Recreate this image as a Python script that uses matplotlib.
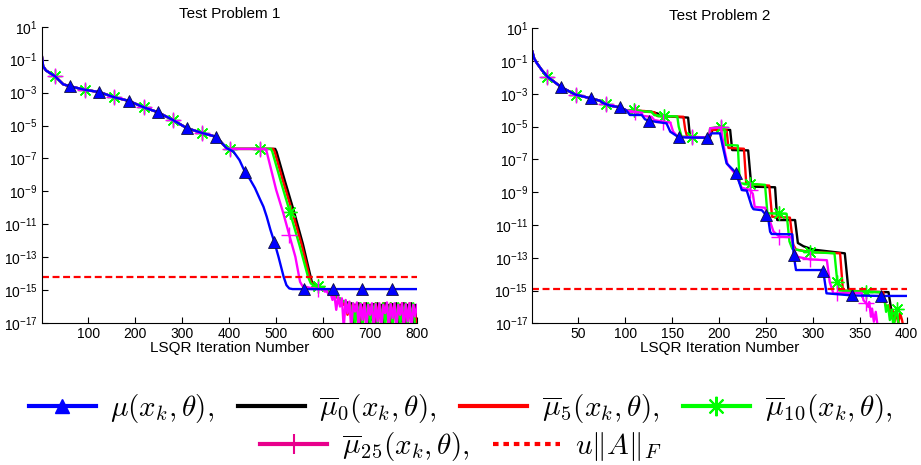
import numpy as np
import matplotlib
matplotlib.use('Agg')
import matplotlib.pyplot as plt
from matplotlib.lines import Line2D
from matplotlib.font_manager import FontProperties
from matplotlib.ticker import FixedLocator, NullLocator, FuncFormatter

plt.rcParams['font.family'] = 'Liberation Sans'
plt.rcParams['mathtext.fontset'] = 'custom'
plt.rcParams['mathtext.rm'] = 'Liberation Sans'
plt.rcParams['mathtext.it'] = 'Liberation Sans:italic'
plt.rcParams['mathtext.default'] = 'it'
plt.rcParams['lines.scale_dashes'] = False

# ---- Test Problem 1 (values are log10 of the plotted quantity) ----
tp1_head_x = [1, 4, 10, 19, 29, 47, 62, 93, 124, 155, 186, 218, 248, 280, 310, 342, 373, 385, 395]
tp1_head_e = [-0.7, -1.4, -1.65, -1.82, -2.0, -2.5, -2.62, -2.83, -2.97, -3.28, -3.5, -3.89, -4.19,
              -4.66, -5.16, -5.45, -5.69, -6.08, -6.38]

tp1_mu_x = [409, 422, 434, 445, 455, 466, 473, 480, 488, 496, 505, 516, 522, 528, 535, 559, 621, 683, 746, 800]
tp1_mu_e = [-6.58, -7.1, -7.84, -8.3, -8.8, -9.5, -9.93, -10.54, -11.35, -12.06, -12.97, -14.19, -14.7,
            -14.9, -14.94, -14.94, -14.94, -14.94, -14.94, -14.94]

tp1_mu0_x = [402, 466, 498, 501, 518, 537, 557, 576, 583, 590]
tp1_mu0_e = [-6.42, -6.42, -6.42, -6.6, -8.3, -10.13, -12.2, -14.5, -14.75, -14.8]
tp1_mu5_x = [402, 466, 494, 497, 514, 534, 554, 574, 581, 590]
tp1_mu5_e = [-6.42, -6.42, -6.42, -6.6, -8.3, -10.2, -12.2, -14.5, -14.75, -14.8]
tp1_mu10_x = [402, 466, 489, 492, 510, 529, 550, 568, 574, 583, 590]
tp1_mu10_e = [-6.42, -6.42, -6.42, -6.6, -8.4, -10.23, -12.3, -14.2, -14.6, -14.75, -14.78]
tp1_mu25_x = [402, 466, 477, 480, 500, 515, 528, 541, 551, 556, 570, 590]
tp1_mu25_e = [-6.42, -6.42, -6.42, -6.6, -8.9, -10.3, -11.65, -12.98, -14.5, -14.75, -14.85, -14.95]

# rounding-level noise after convergence, iterations 600..800
tp1_noise_x = list(range(600, 801, 4))
tp1_mu0_noise = [-14.9, -15.0, -15.05, -15.15, -15.2, -15.3, -15.35, -15.4, -15.5, -15.55,
                 -15.65, -15.7, -15.9, -15.75, -16.4, -15.8, -17.1, -15.9, -16.5, -15.8,
                 -17.3, -15.9, -16.3, -15.8, -17.2, -15.9, -16.8, -15.85, -17.3, -15.8,
                 -16.5, -15.9, -17.2, -15.8, -16.7, -15.9, -17.3, -15.85, -16.4, -15.8,
                 -17.2, -15.9, -16.9, -15.8, -17.3, -15.9, -16.6, -15.8, -17.2, -15.9,
                 -17.4]
tp1_mu5_noise = [-14.85, -14.95, -15.05, -15.1, -15.2, -15.25, -15.3, -15.4, -15.45, -15.55,
                 -15.6, -15.9, -15.7, -16.5, -15.8, -16.1, -15.85, -16.9, -15.8, -17.3,
                 -15.9, -16.5, -15.8, -17.2, -15.9, -16.7, -15.85, -17.3, -15.8, -16.4,
                 -15.9, -17.2, -15.8, -16.8, -15.9, -17.3, -15.8, -16.5, -15.9, -17.2,
                 -15.85, -16.6, -15.8, -17.3, -15.9, -16.9, -15.8, -17.2, -15.9, -16.4,
                 -17.4]
tp1_mu10_noise = [-14.85, -14.95, -15.0, -15.1, -15.15, -15.2, -15.3, -15.35, -15.45, -15.5,
                  -15.6, -15.7, -15.65, -16.2, -15.75, -16.6, -15.8, -17.3, -15.9, -16.4,
                  -15.8, -17.2, -15.9, -16.6, -15.8, -17.3, -15.85, -16.3, -15.8, -17.2,
                  -15.9, -16.8, -15.8, -17.3, -15.9, -16.5, -15.8, -17.2, -15.85, -16.9,
                  -15.8, -17.3, -15.9, -16.4, -15.8, -17.3, -15.85, -16.7, -15.8, -17.3,
                  -17.4]
tp1_mu25_noise = [-14.95, -15.1, -15.05, -15.3, -15.2, -15.6, -15.3, -16.2, -15.4, -16.0,
                  -15.5, -17.3, -15.6, -16.4, -15.7, -17.4, -15.8, -16.3, -15.75, -17.3,
                  -15.85, -16.8, -15.8, -17.4, -15.9, -16.5, -15.8, -17.3, -15.85, -16.9,
                  -15.8, -17.4, -15.9, -16.4, -15.75, -17.3, -15.85, -16.7, -15.8, -17.4,
                  -15.9, -16.5, -15.8, -17.3, -15.85, -16.9, -15.8, -17.4, -15.9, -16.6,
                  -15.9]
tp1_tol_e = -14.23

tp1_mu_marks = [62, 124, 186, 248, 310, 373, 434, 496, 559, 621, 683, 746]
tp1_bar_marks = [29, 93, 155, 218, 280, 342, 402, 466, 528, 590]

# ---- Test Problem 2 ----
tp2_head_x = [1, 3, 6, 11, 17, 32, 47, 63, 73, 76, 79, 84, 94, 101]
tp2_head_e = [-0.42, -0.85, -1.14, -1.54, -1.95, -2.6, -3.05, -3.27, -3.42, -3.55, -3.62, -3.72, -3.82, -4.0]

tp2_mu_x = [105, 117.6, 121, 125, 144, 148, 157, 187, 189, 192, 201, 204, 208, 218, 222.4, 224.2, 229.5,
            234.9, 236.7, 245.6, 250, 252.6, 254.4, 256, 278, 279.5, 282, 309.5, 311, 314.5, 342, 373, 400]
tp2_mu_e = [-4.29, -4.29, -4.55, -4.64, -4.8, -5.31, -5.65, -5.68, -5.6, -5.41, -5.41, -6.22, -7.24, -7.81,
            -8.56, -8.87, -8.9, -9.88, -10.04, -10.1, -10.39, -10.69, -11.41, -11.55, -11.57, -12.83, -13.75,
            -13.75, -13.8, -15.17, -15.3, -15.33, -15.33]

tp2_mu0_x = [128, 131, 134.7, 137, 167, 169, 190, 193, 211.8, 214, 231, 234.4, 259.7, 262, 281, 284, 290,
             300, 334, 337.7, 339, 380.6, 383, 385, 387]
tp2_mu0_e = [-4.09, -4.15, -4.2, -4.35, -4.45, -5.62, -5.68, -5.2, -5.2, -6.43, -6.45, -8.66, -8.7, -10.7,
             -10.7, -12.1, -12.3, -12.5, -12.73, -14.86, -15.07, -15.1, -16.0, -16.6, -17.4]

tp2_mu5_x = [121, 124, 131, 134, 162, 164, 166, 189.5, 192, 208, 210, 226.5, 229, 253.5, 256.5, 275.5, 279,
             282, 297, 329, 332, 375, 377, 379, 381, 383, 385, 387, 389, 391, 393, 395, 397]
tp2_mu5_e = [-4.05, -4.1, -4.12, -4.35, -4.4, -5.2, -5.62, -5.66, -5.2, -5.2, -6.3, -6.35, -8.5, -8.6, -10.5,
             -10.55, -12.2, -12.5, -12.65, -12.73, -15.0, -15.1, -15.8, -16.1, -15.9, -16.7, -16.2, -16.9,
             -16.3, -17.0, -16.4, -16.8, -17.4]

tp2_mu10_x = [109, 113, 128, 131, 141, 155.5, 157, 160, 171, 189, 190.5, 202, 205.5, 207, 220, 222, 233, 249,
              251.5, 264, 272, 275, 278, 290, 297, 323, 326, 328, 357, 371.6, 374, 376, 378, 380, 382, 384,
              386, 388, 389.5, 391, 393]
tp2_mu10_e = [-3.98, -4.05, -4.1, -4.3, -4.35, -4.38, -5.0, -5.6, -5.65, -5.65, -5.1, -5.0, -5.05, -6.12,
              -6.15, -8.46, -8.5, -8.55, -10.29, -10.3, -10.32, -12.0, -12.45, -12.6, -12.65, -12.73, -14.46,
              -15.0, -15.07, -15.1, -15.6, -15.4, -16.3, -15.9, -16.8, -16.2, -17.3, -16.4, -16.15, -16.9,
              -17.4]

tp2_mu25_x = [110, 117, 119, 128, 131, 140.7, 148, 151, 156, 171, 189, 190.5, 202, 203, 206, 209, 216, 222,
              224, 233, 236, 238, 249, 251.5, 255, 258, 264.3, 277, 280.5, 284, 297, 314.9, 318, 322, 326,
              352, 354, 357, 359, 360, 361.9, 363, 365, 367, 369, 371.6]
tp2_mu25_e = [-4.1, -4.15, -4.35, -4.4, -4.6, -4.7, -4.75, -5.3, -5.62, -5.65, -5.65, -5.1, -5.05, -5.5,
              -6.5, -7.3, -7.8, -8.4, -8.72, -8.87, -9.1, -9.9, -9.95, -10.35, -10.9, -11.4, -11.71, -11.75,
              -12.6, -12.95, -13.1, -13.15, -14.5, -15.2, -15.15, -15.15, -15.6, -15.78, -16.0, -15.7,
              -16.6, -16.1, -16.9, -16.3, -17.2, -17.5]
tp2_tol_e = -14.88

tp2_mu_marks = [32, 63, 94, 125, 157, 187, 218, 250, 279.5, 311, 342, 373]
tp2_bar_marks = [17, 47, 79, 110, 141, 171, 202, 233, 264, 297, 326, 357, 389]

BLUE = (0, 0, 1)
GREEN = (0, 1, 0)
MAGENTA = (1, 0, 1)
ASTER = (8, 2, 0)


def curve(head_x, head_e, x, e):
    xs = np.array(head_x + x, dtype=float)
    ys = 10.0 ** np.array(head_e + e, dtype=float)
    return xs, ys


def mark_idx(xs, marks):
    return sorted(set(int(np.argmin(np.abs(xs - m))) for m in marks))


def draw_panel(ax, head_x, head_e, series, tol_e, xmax, xticks, title):
    for x, e, style, marks in series:
        xs, ys = curve(head_x, head_e, x, e)
        kw = dict(style)
        if marks is not None:
            kw['markevery'] = mark_idx(xs, marks)
        ax.plot(xs, ys, **kw)
    ax.plot([1, xmax], [10.0 ** tol_e] * 2, color='r', lw=1.6, dashes=(5, 2.6))

    ax.set_yscale('log')
    ax.set_xlim(1, xmax)
    ax.set_ylim(1e-17, 10)
    ax.yaxis.set_major_locator(FixedLocator(10.0 ** np.arange(1, -18, -2)))
    ax.yaxis.set_minor_locator(NullLocator())
    ax.yaxis.set_major_formatter(FuncFormatter(lambda v, p: r'$10^{%d}$' % round(np.log10(v))))
    ax.set_xticks(xticks)
    ax.spines['top'].set_visible(False)
    ax.spines['right'].set_visible(False)
    ax.tick_params(direction='in', length=4, width=0.8, labelsize=10, pad=3)
    ax.set_title(title, fontsize=11, pad=6)
    ax.set_xlabel('LSQR Iteration Number', fontsize=11, labelpad=0)


fig = plt.figure(figsize=(9.21, 4.65), dpi=100)
ax1 = fig.add_axes([0.0453, 0.3054, 0.4075, 0.637])
ax2 = fig.add_axes([0.578, 0.3047, 0.4065, 0.6345])

lw = 1.7
st_mu0 = dict(color='k', lw=lw)
st_mu5 = dict(color='r', lw=lw)
st_mu10 = dict(color=GREEN, lw=lw, marker=ASTER, ms=10, mew=1.0, mec=GREEN)
st_mu25 = dict(color=MAGENTA, lw=lw, marker='+', ms=11, mew=1.0, mec=MAGENTA)
st_mu = dict(color=BLUE, lw=lw, marker='^', ms=8, mfc=BLUE, mec='#101040', mew=0.6)

draw_panel(ax1, tp1_head_x, tp1_head_e, [
    (tp1_mu0_x + tp1_noise_x, tp1_mu0_e + tp1_mu0_noise, st_mu0, None),
    (tp1_mu5_x + tp1_noise_x, tp1_mu5_e + tp1_mu5_noise, st_mu5, None),
    (tp1_mu10_x + tp1_noise_x, tp1_mu10_e + tp1_mu10_noise, st_mu10, tp1_bar_marks),
    (tp1_mu25_x + tp1_noise_x, tp1_mu25_e + tp1_mu25_noise, st_mu25, tp1_bar_marks),
    (tp1_mu_x, tp1_mu_e, st_mu, tp1_mu_marks),
], tp1_tol_e, 800, [100, 200, 300, 400, 500, 600, 700, 800], 'Test Problem 1')

draw_panel(ax2, tp2_head_x, tp2_head_e, [
    (tp2_mu0_x, tp2_mu0_e, st_mu0, None),
    (tp2_mu5_x, tp2_mu5_e, st_mu5, None),
    (tp2_mu10_x, tp2_mu10_e, st_mu10, tp2_bar_marks),
    (tp2_mu25_x, tp2_mu25_e, st_mu25, tp2_bar_marks),
    (tp2_mu_x, tp2_mu_e, st_mu, tp2_mu_marks),
], tp2_tol_e, 400, [50, 100, 150, 200, 250, 300, 350, 400], 'Test Problem 2')

# legend, two centred rows
hl = 3.0
h_mu = Line2D([], [], color=BLUE, lw=hl, marker='^', ms=10, mfc=BLUE, mec=BLUE)
h_mu0 = Line2D([], [], color='k', lw=hl)
h_mu5 = Line2D([], [], color='r', lw=hl)
h_mu10 = Line2D([], [], color=GREEN, lw=hl, marker=ASTER, ms=14, mew=1.5, mec=GREEN)
h_mu25 = Line2D([], [], color='#e8008c', lw=hl, marker='+', ms=14, mew=1.5, mec='#e8008c')
h_tol = Line2D([], [], color='r', lw=hl, dashes=(4, 3.5))

prop = FontProperties(size=21, math_fontfamily='cm')
common = dict(frameon=False, prop=prop, handlelength=2.3, handletextpad=0.5,
              columnspacing=0.8, borderaxespad=0, borderpad=0, numpoints=1)
fig.legend([h_mu, h_mu0, h_mu5, h_mu10],
           [r'$\mu(x_k,\theta),$', r'$\overline{\mu}_0(x_k,\theta),$',
            r'$\overline{\mu}_5(x_k,\theta),$', r'$\overline{\mu}_{10}(x_k,\theta),$'],
           loc='center', bbox_to_anchor=(0.5, 0.122), ncol=4, **common)
fig.legend([h_mu25, h_tol],
           [r'$\overline{\mu}_{25}(x_k,\theta),$', r'$u\|A\|_F$'],
           loc='center', bbox_to_anchor=(0.5, 0.04), ncol=2, **common)

fig.savefig('out.png', dpi=100)
